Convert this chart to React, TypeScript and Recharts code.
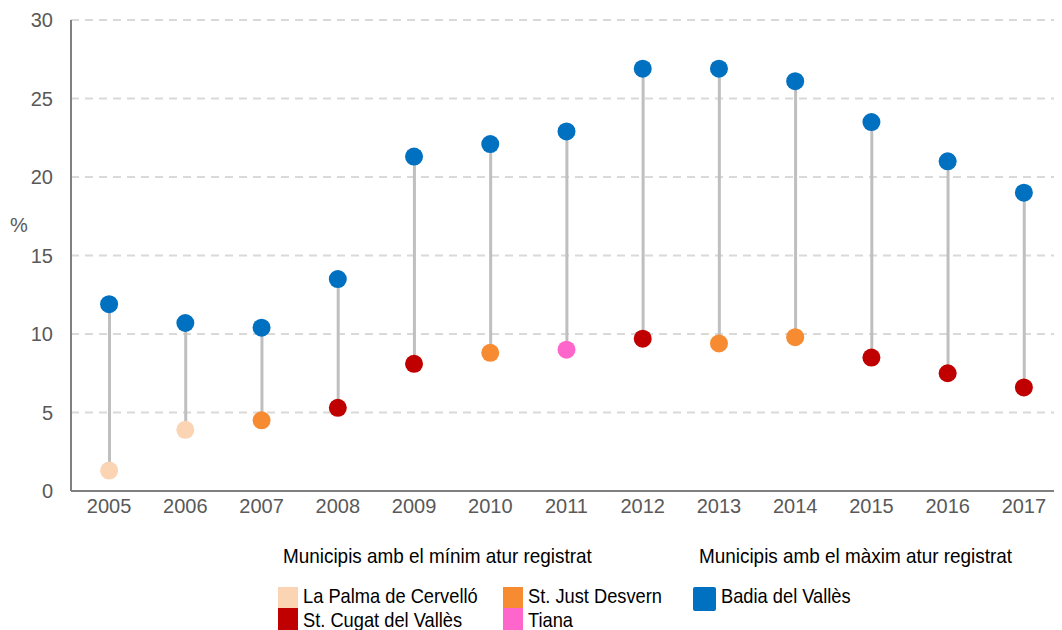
import { ComposedChart, Bar, Line, XAxis, YAxis, CartesianGrid } from 'recharts'

const years = ['2005', '2006', '2007', '2008', '2009', '2010', '2011', '2012', '2013', '2014', '2015', '2016', '2017']
const maxValues = [11.9, 10.7, 10.4, 13.5, 21.3, 22.1, 22.9, 26.9, 26.9, 26.1, 23.5, 21.0, 19.0]
const minValues = [1.3, 3.9, 4.5, 5.3, 8.1, 8.8, 9.0, 9.7, 9.4, 9.8, 8.5, 7.5, 6.6]
const minTowns = [
  'La Palma de Cervelló', 'La Palma de Cervelló', 'St. Just Desvern', 'St. Cugat del Vallès',
  'St. Cugat del Vallès', 'St. Just Desvern', 'Tiana', 'St. Cugat del Vallès', 'St. Just Desvern',
  'St. Just Desvern', 'St. Cugat del Vallès', 'St. Cugat del Vallès', 'St. Cugat del Vallès',
]
const yTicks = [0, 5, 10, 15, 20, 25, 30]

const MAX_COLOR = '#0070C0'
const TOWN_COLORS: Record<string, string> = {
  'La Palma de Cervelló': '#FBD4B4',
  'St. Just Desvern': '#F68B32',
  'St. Cugat del Vallès': '#C00000',
  'Tiana': '#FF66CC',
}

const data = years.map((y, i) => ({
  year: y,
  max: maxValues[i],
  min: minValues[i],
  range: [minValues[i], maxValues[i]],
  town: minTowns[i],
}))

const tickStyle = { fontSize: 20, fill: '#595959', fontFamily: '"Liberation Sans", Arial, sans-serif' }
// no narrow font installed, so the Calibri-like legend text is squeezed horizontally
const legendFont = '"Liberation Sans", Arial, sans-serif'

function MinDot(props: any) {
  const { cx, cy, payload, index } = props
  if (cx == null || cy == null) return null
  return <circle key={`min-${index}`} cx={cx} cy={cy} r={9} fill={TOWN_COLORS[payload.town]} />
}

function Swatch({ x, y, w, h, color, r = 0 }: { x: number; y: number; w: number; h: number; color: string; r?: number }) {
  return <div style={{ position: 'absolute', left: x, top: y, width: w, height: h, background: color, borderRadius: r }} />
}

function Label({ x, baseline, text, squeeze = 0.87 }: { x: number; baseline: number; text: string; squeeze?: number }) {
  return (
    <div
      style={{
        position: 'absolute', left: x, top: baseline - 20, fontFamily: legendFont, fontSize: 21,
        lineHeight: '25px', color: '#000', whiteSpace: 'nowrap',
        transform: `scaleX(${squeeze})`, transformOrigin: 'left top',
      }}
    >
      {text}
    </div>
  )
}

export default function App() {
  return (
    <div style={{ position: 'relative', marginTop: -8, marginLeft: -8, width: 1062, height: 630, background: '#fff', overflow: 'hidden' }}>
      <ComposedChart width={1062} height={540} data={data} margin={{ top: 20, right: 0, left: 0, bottom: 0 }}>
        <CartesianGrid vertical={false} stroke="#D9D9D9" strokeWidth={2} strokeDasharray="8 6" />
        <XAxis
          dataKey="year"
          height={49}
          tickLine={false}
          tickMargin={2}
          axisLine={{ stroke: '#808080', strokeWidth: 2 }}
          tick={tickStyle}
          interval={0}
        />
        <YAxis
          domain={[0, 30]}
          ticks={yTicks}
          width={71}
          tickLine={false}
          tickMargin={12}
          axisLine={{ stroke: '#808080', strokeWidth: 2 }}
          tick={tickStyle}
        />
        <Bar dataKey="range" barSize={3} fill="#BFBFBF" isAnimationActive={false} />
        <Line dataKey="max" stroke="none" dot={{ r: 9, fill: MAX_COLOR, stroke: 'none' }} activeDot={false} isAnimationActive={false} />
        <Line dataKey="min" stroke="none" dot={MinDot} activeDot={false} isAnimationActive={false} />
      </ComposedChart>

      <div style={{ position: 'absolute', left: 10, top: 214, fontFamily: tickStyle.fontFamily, fontSize: 20, color: '#595959' }}>%</div>

      <Label x={283} baseline={563} text="Municipis amb el mínim atur registrat" squeeze={0.9} />
      <Label x={699} baseline={563} text="Municipis amb el màxim atur registrat" squeeze={0.9} />

      <Swatch x={278} y={587} w={20} h={21} color={TOWN_COLORS['La Palma de Cervelló']} />
      <Swatch x={278} y={608} w={20} h={22} color={TOWN_COLORS['St. Cugat del Vallès']} />
      <Swatch x={503} y={587} w={20} h={21} color={TOWN_COLORS['St. Just Desvern']} />
      <Swatch x={503} y={608} w={20} h={22} color={TOWN_COLORS['Tiana']} />
      <Swatch x={693} y={587} w={23} h={24} color={MAX_COLOR} r={2} />

      <Label x={303} baseline={603} text="La Palma de Cervelló" />
      <Label x={303} baseline={627} text="St. Cugat del Vallès" />
      <Label x={528} baseline={603} text="St. Just Desvern" />
      <Label x={528} baseline={627} text="Tiana" />
      <Label x={721} baseline={603} text="Badia del Vallès" />
    </div>
  )
}
